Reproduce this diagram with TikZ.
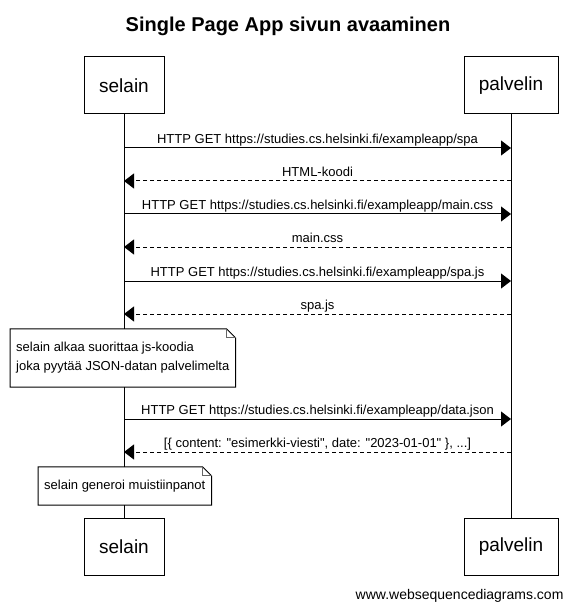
\documentclass[tikz,border=0pt]{standalone}
\usepackage{fontspec}
\setmainfont{Liberation Sans}[Ligatures={TeXOff,CommonOff}]
\usetikzlibrary{arrows.meta}

\begin{document}
\begin{tikzpicture}[x=1pt,y=-1pt]
        \tikzstyle{actor}=[draw, line width=1pt, minimum height=57pt, font=\fontsize{19}{23}\selectfont]
        \tikzstyle{msg}=[line width=1pt, -{Triangle[length=10pt,width=15pt]}]
        \tikzstyle{reply}=[msg, dash pattern=on 4pt off 3pt]
        \tikzstyle{lbl}=[midway, anchor=base, yshift=4.5pt, inner sep=0pt, font=\fontsize{13}{15}\selectfont]
        \tikzstyle{note}=[anchor=west, align=left, fill=white, inner xsep=6pt, font=\fontsize{13}{19}\selectfont]
        \tikzstyle{fold}=[line width=0.8pt, draw=black!60]
        \useasboundingbox (0,0) rectangle (573,609);
        \node[font=\bfseries\fontsize{20}{24}\selectfont] (title) at (288,26) {Single Page App sivun avaaminen};
        % osallistujat
        \node[actor, minimum width=80pt] (selainTop) at (124,85.5) {selain};
        \node[actor, minimum width=94pt] (palvelinTop) at (511,85.5) {palvelin};
        \node[actor, minimum width=80pt] (selainBot) at (124,546.5) {selain};
        \node[actor, minimum width=94pt] (palvelinBot) at (511,546.5) {palvelin};
        \draw[line width=1pt] (selainTop) -- (selainBot);
        \draw[line width=1pt] (palvelinTop) -- (palvelinBot);
        % viestit
        \coordinate (m1) at (0,148);
        \coordinate (m2) at (0,181);
        \coordinate (m3) at (0,214);
        \coordinate (m4) at (0,247);
        \coordinate (m5) at (0,281);
        \coordinate (m6) at (0,314);
        \coordinate (m7) at (0,419);
        \coordinate (m8) at (0,452);
        \draw[msg] (selainTop |- m1) -- (palvelinTop |- m1)
          node[lbl] {HTTP GET https://studies.cs.helsinki.fi/exampleapp/spa};
        \draw[reply] (palvelinTop |- m2) -- (selainTop |- m2)
          node[lbl] {HTML-koodi};
        \draw[msg] (selainTop |- m3) -- (palvelinTop |- m3)
          node[lbl] {HTTP GET https://studies.cs.helsinki.fi/exampleapp/main.css};
        \draw[reply] (palvelinTop |- m4) -- (selainTop |- m4)
          node[lbl] {main.css};
        \draw[msg] (selainTop |- m5) -- (palvelinTop |- m5)
          node[lbl] {HTTP GET https://studies.cs.helsinki.fi/exampleapp/spa.js};
        \draw[reply] (palvelinTop |- m6) -- (selainTop |- m6)
          node[lbl] {spa.js};
        \draw[msg] (selainTop |- m7) -- (palvelinTop |- m7)
          node[lbl] {HTTP GET https://studies.cs.helsinki.fi/exampleapp/data.json};
        \draw[reply] (palvelinTop |- m8) -- (selainTop |- m8)
          node[lbl] {[\{ content: "esimerkki-viesti", date: "2023-01-01" \}, ...]};
        % muistiinpanot
        \node[note, minimum height=58pt] (note1) at (10,358)
          {selain alkaa suorittaa js-koodia\\joka pyytää JSON-datan palvelimelta};
        \draw[line width=1pt] (note1.north west) -- ([xshift=-9pt]note1.north east)
          -- ([yshift=-9pt]note1.north east) -- (note1.south east) -- (note1.south west) -- cycle;
        \draw[fold] ([xshift=-9pt]note1.north east) |- ([yshift=-9pt]note1.north east);
        \node[note, minimum height=38pt] (note2) at (38,486) {selain generoi muistiinpanot};
        \draw[line width=1pt] (note2.north west) -- ([xshift=-9pt]note2.north east)
          -- ([yshift=-9pt]note2.north east) -- (note2.south east) -- (note2.south west) -- cycle;
        \draw[fold] ([xshift=-9pt]note2.north east) |- ([yshift=-9pt]note2.north east);
        \node[anchor=east, font=\fontsize{14}{16}\selectfont] (site) at (567,596) {www.websequencediagrams.com};
\end{tikzpicture}
\end{document}
